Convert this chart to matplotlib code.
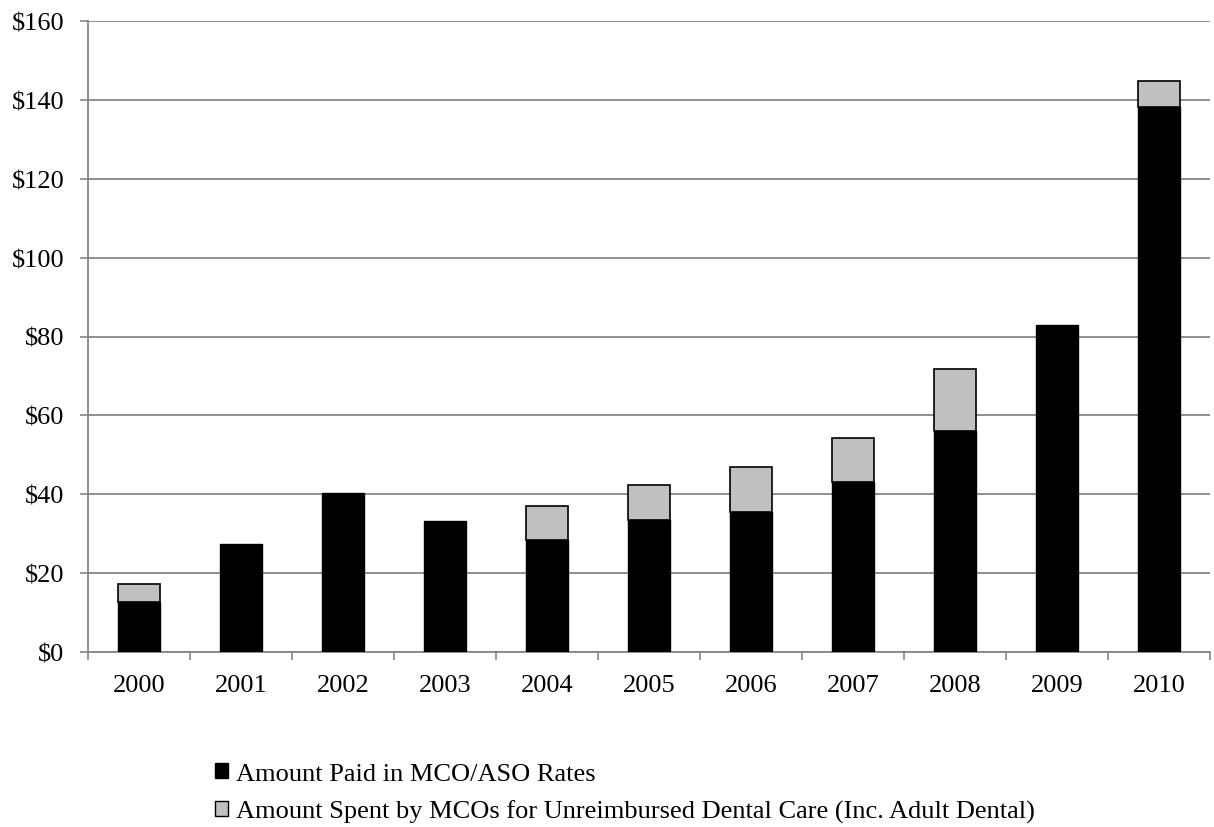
import matplotlib
matplotlib.use("Agg")
import matplotlib.pyplot as plt
from matplotlib.patches import Patch
import numpy as np

years = ["2000", "2001", "2002", "2003", "2004", "2005", "2006", "2007", "2008", "2009", "2010"]
paid = [12.8, 27.5, 40.3, 33.2, 28.4, 33.5, 35.6, 43.0, 56.0, 82.9, 138.3]
unreimbursed = [4.5, 0, 0, 0, 8.7, 8.9, 11.4, 11.2, 15.7, 0, 6.4]
yticks = [0, 20, 40, 60, 80, 100, 120, 140, 160]
ytick_labels = ["$0", "$20", "$40", "$60", "$80", "$100", "$120", "$140", "$160"]

plt.rcParams["font.family"] = ["Liberation Serif", "DejaVu Serif"]
FS = 19

fig = plt.figure(figsize=(12.14, 8.28), dpi=100)
ax = fig.add_axes([88 / 1214, 1 - 653 / 828, 1122 / 1214, (653 - 22) / 828])

x = np.arange(len(years))
w = 0.42
ax.bar(x, paid, width=w, color="black", edgecolor="black", linewidth=1, zorder=3)
for i, (p, u) in enumerate(zip(paid, unreimbursed)):
    if u > 0:
        ax.bar(x[i], u, bottom=p, width=w, color="#c0c0c0", edgecolor="black", linewidth=1.2, zorder=3)

ax.set_xlim(-0.5, len(years) - 0.5)
ax.set_ylim(0, 160)
ax.set_yticks(yticks)
ax.set_yticklabels(ytick_labels, fontsize=FS)
ax.set_xticks(x)
ax.set_xticklabels(years, fontsize=FS)
ax.set_xticks(np.arange(len(years) + 1) - 0.5, minor=True)
ax.tick_params(axis="x", which="major", length=0, pad=16)
ax.tick_params(axis="x", which="minor", length=6, color="#868686", width=1.2, direction="out")
ax.tick_params(axis="y", length=6, color="#868686", width=1.2, direction="out", pad=11)
ax.yaxis.grid(True, color="#868686", linewidth=1.3, zorder=0)
ax.set_axisbelow(True)
for s in ["top", "right"]:
    ax.spines[s].set_visible(False)
for s in ["left", "bottom"]:
    ax.spines[s].set_color("#868686")
    ax.spines[s].set_linewidth(1.3)

handles = [Patch(facecolor="black", edgecolor="black"),
           Patch(facecolor="#c0c0c0", edgecolor="black")]
labels = ["Amount Paid in MCO/ASO Rates",
          "Amount Spent by MCOs for Unreimbursed Dental Care (Inc. Adult Dental)"]
fig.legend(handles, labels, loc="upper left", bbox_to_anchor=(215 / 1214, 1 - 764 / 828),
           frameon=False, fontsize=FS, handlelength=0.5, handleheight=0.5,
           handletextpad=0.3, labelspacing=0.55, borderpad=0, borderaxespad=0)

fig.savefig("out.png", dpi=100)
